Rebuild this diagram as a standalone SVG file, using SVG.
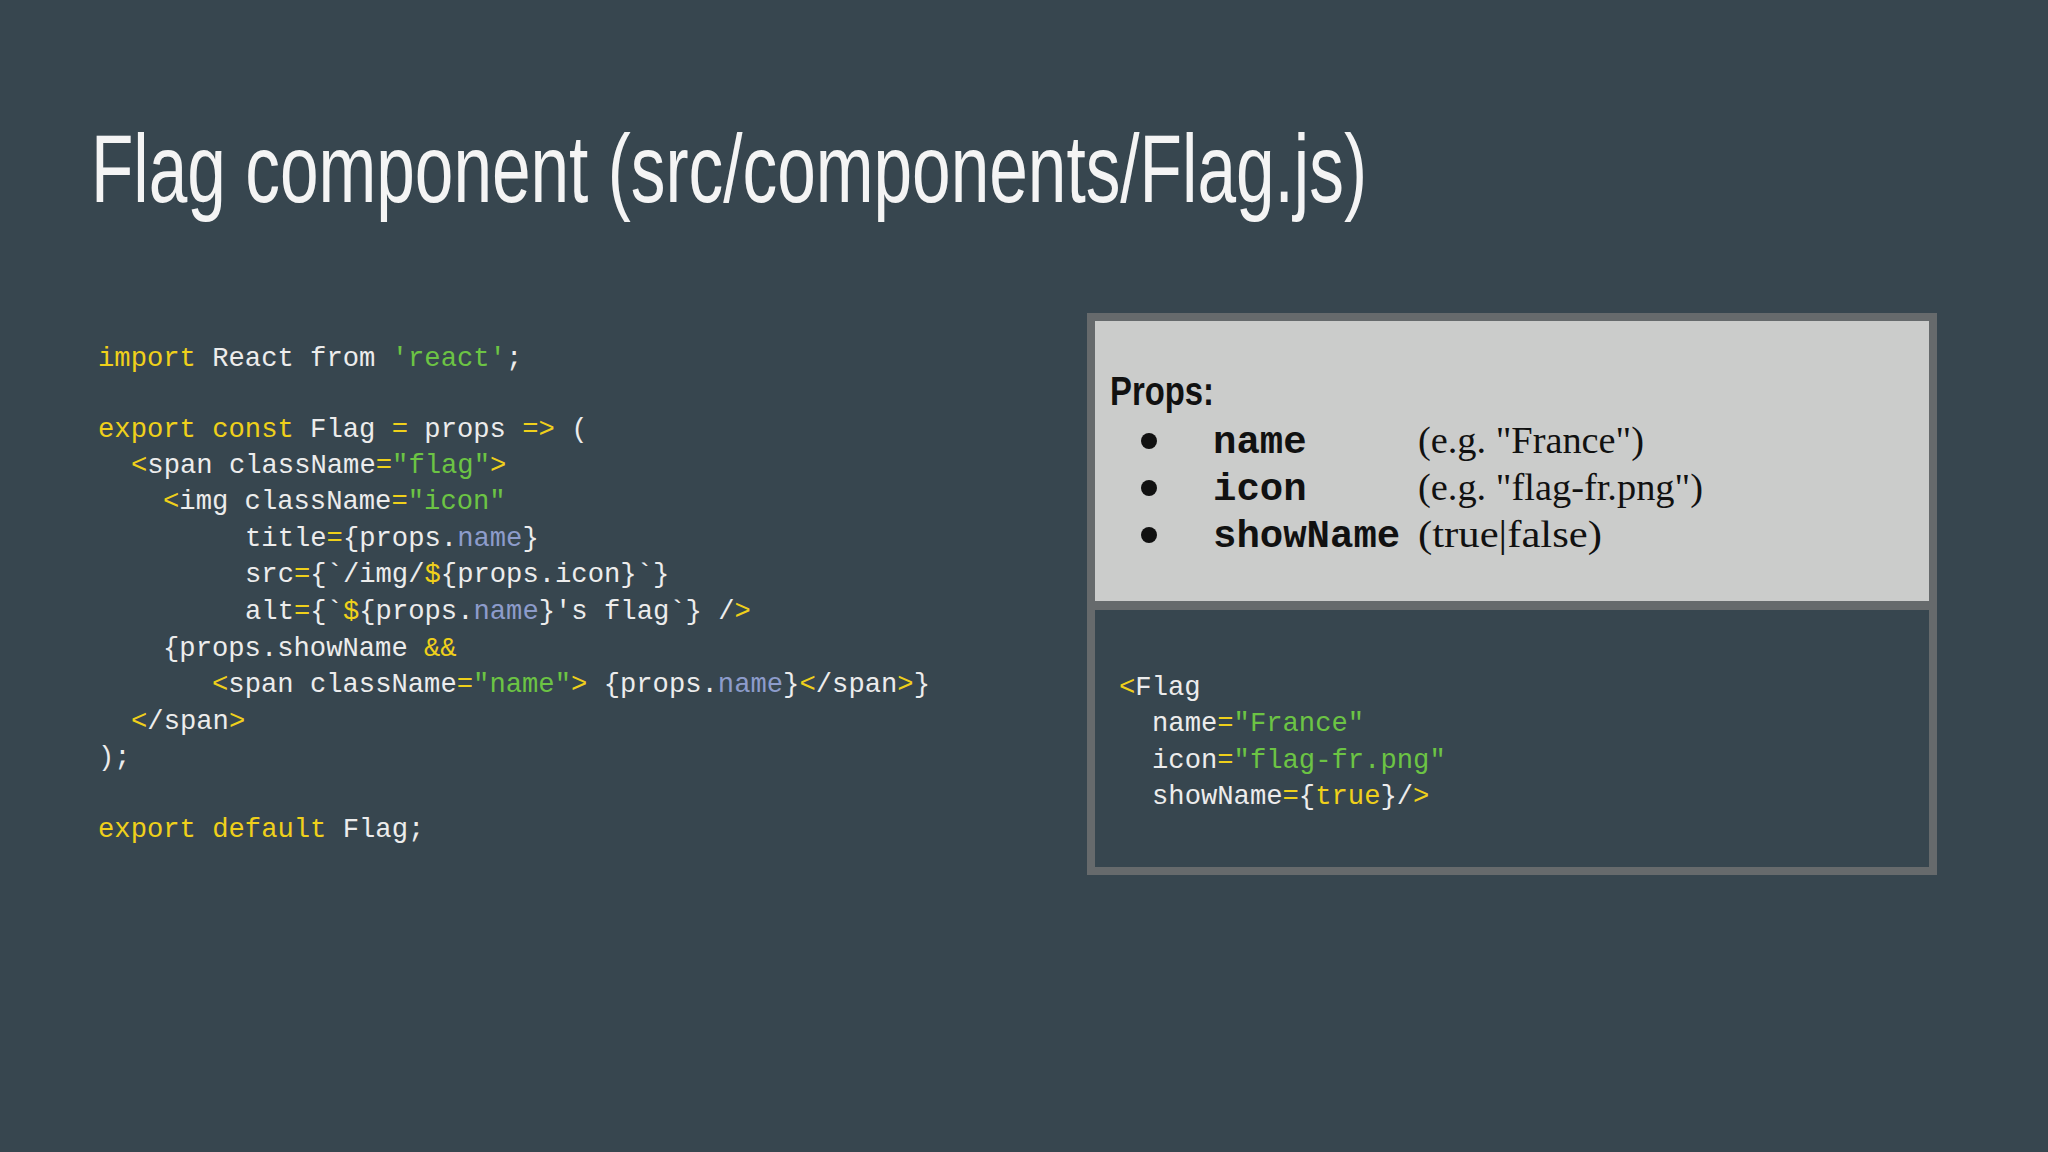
<svg xmlns="http://www.w3.org/2000/svg" width="2048" height="1152" viewBox="0 0 2048 1152">
<style>
.code{font-family:"Liberation Mono","DejaVu Sans Mono",monospace;font-size:27.2px;fill:#ececec;white-space:pre}
.k{fill:#efd01b}.s{fill:#6cc444}.n{fill:#8d9ccb}
.title{font-family:"Liberation Sans",Arial,sans-serif;font-size:96px;fill:#f4f4f4}
.pm{font-family:"Liberation Mono",monospace;font-weight:bold;font-size:39px;fill:#111}
.pd{font-family:"Liberation Serif",serif;font-size:38px;fill:#111}
</style>
<rect width="2048" height="1152" fill="#37464f"/>
<g id="title"><text class="title" x="91" y="202" textLength="1276" lengthAdjust="spacingAndGlyphs">Flag component (src/components/Flag.js)</text></g>
<g id="code-left" class="code">
<text x="98" y="366"><tspan class="k">import</tspan> React from <tspan class="s">'react'</tspan>;</text>
<text x="98" y="437"><tspan class="k">export const</tspan> Flag <tspan class="k">=</tspan> props <tspan class="k">=&gt;</tspan> (</text>
<text x="131" y="473"><tspan class="k">&lt;</tspan>span className<tspan class="k">=</tspan><tspan class="s">"flag"</tspan><tspan class="k">&gt;</tspan></text>
<text x="163" y="509"><tspan class="k">&lt;</tspan>img className<tspan class="k">=</tspan><tspan class="s">"icon"</tspan></text>
<text x="245" y="546">title<tspan class="k">=</tspan>{props.<tspan class="n">name</tspan>}</text>
<text x="245" y="582">src<tspan class="k">=</tspan>{`/img/<tspan class="k">$</tspan>{props.icon}`}</text>
<text x="245" y="619">alt<tspan class="k">=</tspan>{`<tspan class="k">$</tspan>{props.<tspan class="n">name</tspan>}'s flag`} /<tspan class="k">&gt;</tspan></text>
<text x="163" y="656">{props.showName <tspan class="k">&amp;&amp;</tspan></text>
<text x="212" y="692"><tspan class="k">&lt;</tspan>span className<tspan class="k">=</tspan><tspan class="s">"name"</tspan><tspan class="k">&gt;</tspan> {props.<tspan class="n">name</tspan>}<tspan class="k">&lt;</tspan>/span<tspan class="k">&gt;</tspan>}</text>
<text x="131" y="729"><tspan class="k">&lt;</tspan>/span<tspan class="k">&gt;</tspan></text>
<text x="98" y="765">);</text>
<text x="98" y="837"><tspan class="k">export default</tspan> Flag;</text>
</g>
<g id="panel">
<rect x="1087" y="313" width="850" height="562" fill="#666a6c"/>
<rect x="1095" y="321" width="834" height="280" fill="#cbcccb"/>
<rect x="1095" y="610" width="834" height="257" fill="#37464f"/>
</g>
<g id="props">
<text x="1110" y="405" font-family="Liberation Sans,Arial,sans-serif" font-weight="bold" font-size="40" fill="#111" textLength="104" lengthAdjust="spacingAndGlyphs">Props:</text>
<circle cx="1149" cy="441" r="8" fill="#111"/>
<circle cx="1149" cy="488" r="8" fill="#111"/>
<circle cx="1149" cy="535" r="8" fill="#111"/>
<text class="pm" x="1213" y="453">name</text>
<text class="pm" x="1213" y="500">icon</text>
<text class="pm" x="1213" y="547">showName</text>
<text class="pd" x="1418" y="453" textLength="226" lengthAdjust="spacingAndGlyphs">(e.g. "France")</text>
<text class="pd" x="1418" y="500" textLength="285" lengthAdjust="spacingAndGlyphs">(e.g. "flag-fr.png")</text>
<text class="pd" x="1418" y="547" textLength="184" lengthAdjust="spacingAndGlyphs">(true|false)</text>
</g>
<g id="code-right" class="code">
<text x="1119" y="695"><tspan class="k">&lt;</tspan>Flag</text>
<text x="1152" y="731">name<tspan class="k">=</tspan><tspan class="s">"France"</tspan></text>
<text x="1152" y="768">icon<tspan class="k">=</tspan><tspan class="s">"flag-fr.png"</tspan></text>
<text x="1152" y="804">showName<tspan class="k">=</tspan>{<tspan class="k">true</tspan>}/<tspan class="k">&gt;</tspan></text>
</g>
</svg>
